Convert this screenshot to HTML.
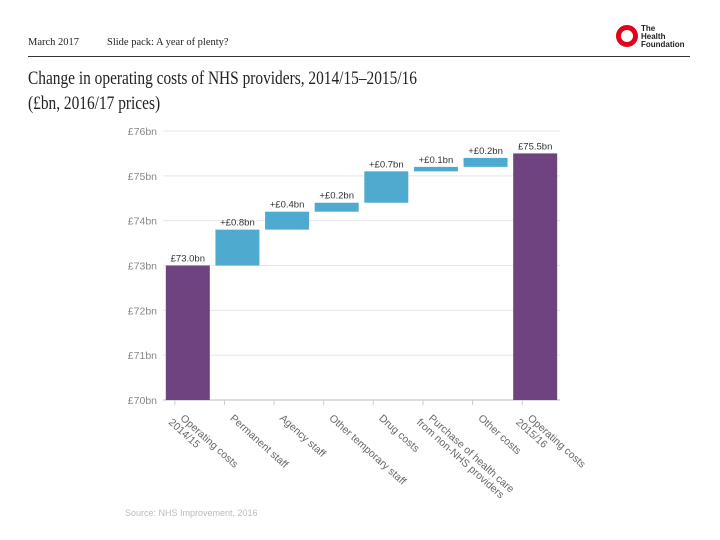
<!DOCTYPE html>
<html><head><meta charset="utf-8"><style>
body{margin:0;background:#fff;width:720px;height:540px;overflow:hidden;position:relative;font-family:"Liberation Serif",serif}
.hdr{position:absolute;top:37px;font-size:10.5px;color:#222}
</style></head><body>
<div class="hdr" style="left:28px">March 2017</div>
<div class="hdr" style="left:107px">Slide pack: A year of plenty?</div>
<svg style="position:absolute;left:612px;top:22px" width="80" height="28">
<circle cx="15" cy="14" r="8.5" fill="none" stroke="#e2001a" stroke-width="5"/>
<text x="29" y="9" font-family="Liberation Sans,sans-serif" font-size="8" font-weight="bold" fill="#222">The</text>
<text x="29" y="17" font-family="Liberation Sans,sans-serif" font-size="8" font-weight="bold" fill="#222">Health</text>
<text x="29" y="25" font-family="Liberation Sans,sans-serif" font-size="8" font-weight="bold" fill="#222">Foundation</text>
</svg>
<div style="position:absolute;left:28px;top:56px;width:662px;height:1px;background:#333"></div>
<div style="position:absolute;left:28px;top:66px;font-size:19px;line-height:25px;color:#222;white-space:nowrap;transform:scaleX(0.81);transform-origin:0 0">Change in operating costs of NHS providers, 2014/15–2015/16<br>(£bn, 2016/17 prices)</div>
<svg id="chart" style="position:absolute;left:0;top:0" width="720" height="540"></svg>
<script>
const categories=["Operating costs 2014/15","Permanent staff","Agency staff","Other temporary staff","Drug costs","Purchase of health care from non-NHS providers","Other costs","Operating costs 2015/16"];
const labelLines=[["Operating costs","2014/15"],["Permanent staff"],["Agency staff"],["Other temporary staff"],["Drug costs"],["Purchase of health care","from non-NHS providers"],["Other costs"],["Operating costs","2015/16"]];
const startTotal=73.0;
const deltas=[0.8,0.4,0.2,0.7,0.1,0.2];
const endTotal=75.5;
const valueLabels=["£73.0bn","+£0.8bn","+£0.4bn","+£0.2bn","+£0.7bn","+£0.1bn","+£0.2bn","£75.5bn"];
const yTicks=[70,71,72,73,74,75,76];
const yTickLabels=["£70bn","£71bn","£72bn","£73bn","£74bn","£75bn","£76bn"];

const svg=document.getElementById('chart');
const NS='http://www.w3.org/2000/svg';
const x0=163,x1=560,yMin=70,yMax=76,py0=400,py1=131;
const y=v=>py0-(v-yMin)/(yMax-yMin)*(py0-py1);
const slot=(x1-x0)/categories.length;
const xc=i=>x0+slot*(i+0.5);
const bw=44;
function mk(t,a){const e=document.createElementNS(NS,t);for(const k in a)e.setAttribute(k,a[k]);svg.appendChild(e);return e;}
yTicks.forEach((v,i)=>{
 const g=mk('line',{x1:x0,x2:x1,y1:y(v),y2:y(v),stroke:'#e6e6e6','stroke-width':1});
 
 
 const t=mk('text',{x:157,y:y(v)+4,'text-anchor':'end','font-family':'Liberation Sans,sans-serif','font-size':10.5,fill:'#888'});
 t.textContent=yTickLabels[i];
 
 
});
const ax=mk('line',{x1:x0,x2:x1,y1:py0,y2:py0,stroke:'#bbb','stroke-width':1});


let run=startTotal;
categories.forEach((c,i)=>{
 let lo,hi,col;
 if(i===0){lo=yMin;hi=startTotal;col='#6f4280';}
 else if(i===categories.length-1){lo=yMin;hi=endTotal;col='#6f4280';}
 else{lo=run;hi=run+deltas[i-1];run=hi;col='#4faad0';}
 const r=mk('rect',{x:xc(i)-bw/2,y:y(hi),width:bw,height:y(lo)-y(hi),fill:col});
 
 
 const t=mk('text',{x:xc(i),y:y(hi)-4,'text-anchor':'middle','font-family':'Liberation Sans,sans-serif','font-size':9.5,fill:'#333'});
 t.textContent=valueLabels[i];
 
 
 const tk=mk('line',{x1:xc(i)-13,x2:xc(i)-13,y1:py0,y2:py0+5,stroke:'#ccc'});
 
 
 const lx=xc(i)-8,ly=py0+19;
 const tl=mk('text',{x:lx,y:ly,transform:`rotate(42 ${lx} ${ly})`,'font-family':'Liberation Sans,sans-serif','font-size':10.5,fill:'#666'});
 
 
 labelLines[i].forEach((ln,j)=>{const s=document.createElementNS(NS,'tspan');s.setAttribute('x',lx-j*6);s.setAttribute('dy',j?11:0);s.textContent=ln;tl.appendChild(s);});
});
const src=mk('text',{x:125,y:516,'font-family':'Liberation Sans,sans-serif','font-size':9,fill:'#bbb'});
src.textContent='Source: NHS Improvement, 2016';


</script>
</body></html>
